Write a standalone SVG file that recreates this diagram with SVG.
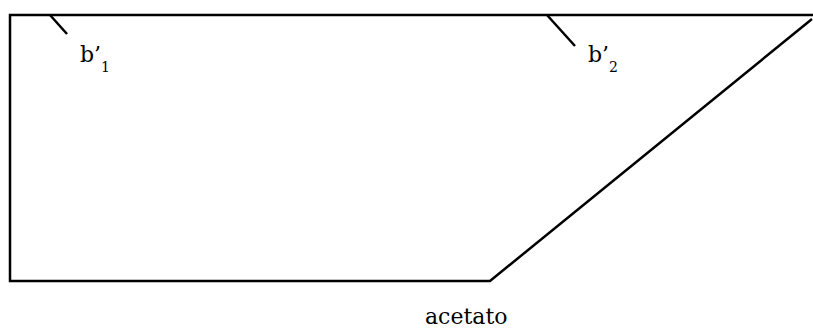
<svg xmlns="http://www.w3.org/2000/svg" width="813" height="329" viewBox="0 0 813 329">
<style>
.l{stroke:#000;stroke-width:2.5;fill:none}
.t{font-family:"DejaVu Serif","Liberation Serif",serif;font-size:22px;fill:#000}
.s{font-size:14px}
</style>
<rect width="813" height="329" fill="#fff"/>
<g id="shape">
<path class="l" d="M813,15 H10 V281 H490 L812,19"/>
</g>
<g id="connectors">
<line class="l" x1="50" y1="15" x2="67" y2="34"/>
<line class="l" x1="547" y1="15" x2="575" y2="46"/>
</g>
<g id="b1"><text class="t" x="80" y="62">b’<tspan class="s" dy="10">1</tspan></text></g>
<g id="b2"><text class="t" x="588" y="62">b’<tspan class="s" dy="10">2</tspan></text></g>
<g id="acetato"><text class="t" x="425" y="324">acetato</text></g>
</svg>
